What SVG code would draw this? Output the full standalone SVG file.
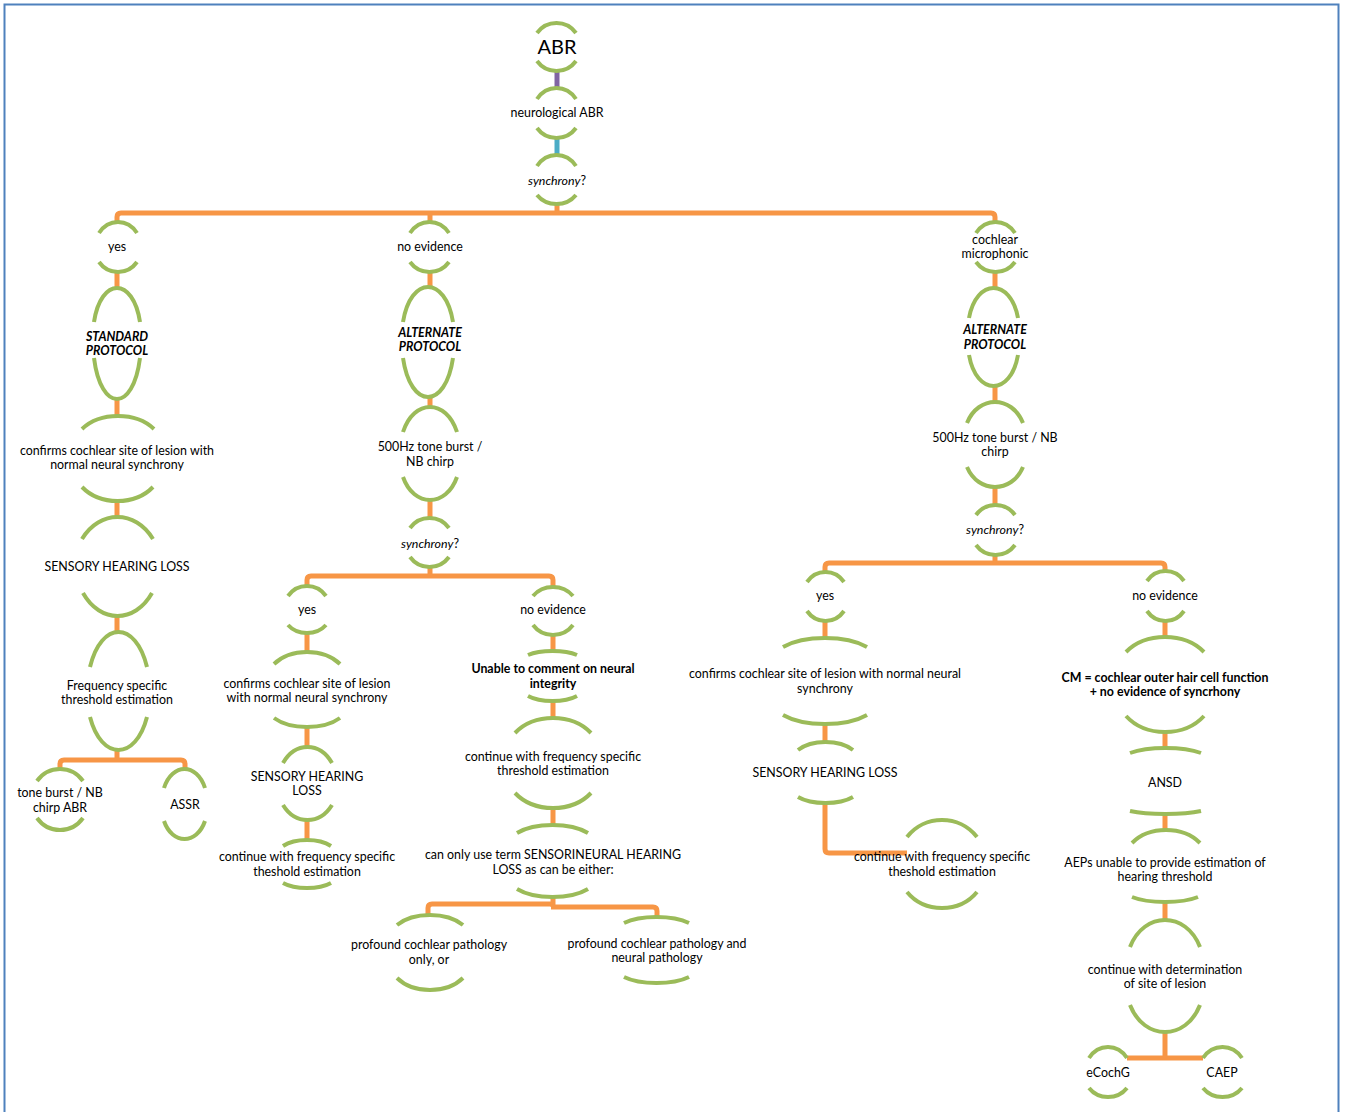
<svg xmlns="http://www.w3.org/2000/svg" width="1346" height="1112" viewBox="0 0 1346 1112">
<style>
.a{fill:none;stroke:#9BBB59;stroke-width:4}
.c{fill:none;stroke:#F79646;stroke-width:5}
.p{fill:none;stroke:#8064A2;stroke-width:5}
.q{fill:none;stroke:#4BACC6;stroke-width:5}
.t{font-family:Lato,'Liberation Sans',sans-serif;font-size:12.4px;fill:#000;text-anchor:middle}
.b{font-weight:bold}
.bi{font-weight:bold;font-style:italic}
.i{font-style:italic}
</style>
<rect x="4.5" y="4.5" width="1334" height="1200" fill="none" stroke="#4F81BD" stroke-width="2"/>
<g id="connectors">
<path class="p" d="M557 71V89"/>
<path class="q" d="M557 138V155"/>
<path class="c" d="M557 204V213"/>
<path class="c" d="M117 222V217Q117 213 121 213H991Q995 213 995 217V222"/>
<path class="c" d="M430 213V222"/>
<path class="c" d="M117 272V288M117 399V416M117 501V517M117 616V632M117 750V760"/>
<path class="c" d="M60 770V764Q60 760 64 760H181Q185 760 185 764V770"/>
<path class="c" d="M430 272V287M430 397V407M430 500V518M430 567V576"/>
<path class="c" d="M307 586V580Q307 576 311 576H549Q553 576 553 580V587"/>
<path class="c" d="M307 633V652M307 727V747M307 820V840"/>
<path class="c" d="M553 635V651M553 701V718M553 808V825M553 897V907"/>
<path class="c" d="M428 915V908Q428 904 432 904H553"/>
<path class="c" d="M551 907H653Q657 907 657 911V917"/>
<path class="c" d="M995 272V288M995 386V402M995 487V505M995 555V563"/>
<path class="c" d="M825 572V567Q825 563 829 563H1161Q1165 563 1165 567V571"/>
<path class="c" d="M825 621V638M825 724V742"/>
<path class="c" d="M825 803V849Q825 853 829 853H907"/>
<path class="c" d="M1165 621V637M1165 732V748M1165 814V830M1165 902V920M1165 1032V1058"/>
<path class="c" d="M1127 1058H1203"/>
</g>
<g id="n-abr">
<path class="a" d="M537 33C546.75 19.67 566.25 19.67 576 33"/>
<path class="a" d="M537 61C546.75 74.33 566.25 74.33 576 61"/>
<text class="t" x="557" y="54" style="font-size:20px">ABR</text>
</g>
<g id="n-neuro">
<path class="a" d="M537 99C546.75 84.33 566.25 84.33 576 99"/>
<path class="a" d="M537 128C546.75 141.33 566.25 141.33 576 128"/>
<text class="t" x="557" y="117">neurological ABR</text>
</g>
<g id="n-sync1">
<path class="a" d="M537 166C546.75 151.33 566.25 151.33 576 166"/>
<path class="a" d="M537 195C546.75 207 566.25 207 576 195"/>
<text class="t" x="557" y="185"><tspan class="i">synchrony</tspan>?</text>
</g>
<g id="n-yes1">
<path class="a" d="M99 233C108.5 218.33 127.5 218.33 137 233"/>
<path class="a" d="M99 262C108.5 275.33 127.5 275.33 137 262"/>
<text class="t" x="117" y="251">yes</text>
</g>
<g id="n-std">
<path class="a" d="M94 322C100.9 276.67 133.1 276.67 140 322"/>
<path class="a" d="M94 358C100.9 412.67 133.1 412.67 140 358"/>
<text class="t bi" x="117" y="341">STANDARD</text>
<text class="t bi" x="117" y="355">PROTOCOL</text>
</g>
<g id="n-conf1">
<path class="a" d="M82 429C100 411.67 136 411.67 154 429"/>
<path class="a" d="M82 487C100 505.67 135 505.67 153 487"/>
<text class="t" x="117" y="455">confirms cochlear site of lesion with</text>
<text class="t" x="117" y="469">normal neural synchrony</text>
</g>
<g id="n-shl1">
<path class="a" d="M82 539C99.75 509.67 135.25 509.67 153 539"/>
<path class="a" d="M83 593C100.25 623.67 134.75 623.67 152 593"/>
<text class="t" x="117" y="571">SENSORY HEARING LOSS</text>
</g>
<g id="n-freq1">
<path class="a" d="M90 667C101.4 620.33 135.6 620.33 147 667"/>
<path class="a" d="M90 717C101.4 761 135.6 761 147 717"/>
<text class="t" x="117" y="690">Frequency specific</text>
<text class="t" x="117" y="704">threshold estimation</text>
</g>
<g id="n-tb">
<path class="a" d="M37 781C48.5 765 71.5 765 83 781"/>
<path class="a" d="M37 818C48.5 834 71.5 834 83 818"/>
<text class="t" x="60" y="797">tone burst / NB</text>
<text class="t" x="60" y="812">chirp ABR</text>
</g>
<g id="n-assr">
<path class="a" d="M164 788C172.2 762.67 196.8 762.67 205 788"/>
<path class="a" d="M164 821C172.2 845 196.8 845 205 821"/>
<text class="t" x="185" y="809">ASSR</text>
</g>
<g id="n-noev1">
<path class="a" d="M410 233C419.75 218.33 439.25 218.33 449 233"/>
<path class="a" d="M410 262C419.75 275.33 439.25 275.33 449 262"/>
<text class="t" x="430" y="251">no evidence</text>
</g>
<g id="n-alt1">
<path class="a" d="M403 322C410.5 275.33 445.5 275.33 453 322"/>
<path class="a" d="M403 358C410.5 410 445.5 410 453 358"/>
<text class="t bi" x="430" y="337">ALTERNATE</text>
<text class="t bi" x="430" y="351">PROTOCOL</text>
</g>
<g id="n-500a">
<path class="a" d="M403 432C413.8 398.67 446.2 398.67 457 432"/>
<path class="a" d="M403 477C413.8 507.67 446.2 507.67 457 477"/>
<text class="t" x="430" y="451">500Hz tone burst /</text>
<text class="t" x="430" y="466">NB chirp</text>
</g>
<g id="n-sync2">
<path class="a" d="M410 528C419.75 514.67 439.25 514.67 449 528"/>
<path class="a" d="M410 557C419.75 570.33 439.25 570.33 449 557"/>
<text class="t" x="430" y="548"><tspan class="i">synchrony</tspan>?</text>
</g>
<g id="n-yes2">
<path class="a" d="M288 596C297.5 582.67 316.5 582.67 326 596"/>
<path class="a" d="M288 625C297.5 635.67 316.5 635.67 326 625"/>
<text class="t" x="307" y="614">yes</text>
</g>
<g id="n-conf2">
<path class="a" d="M274 664C290.5 648 323.5 648 340 664"/>
<path class="a" d="M274 718C290.5 730 323.5 730 340 718"/>
<text class="t" x="307" y="688">confirms cochlear site of lesion</text>
<text class="t" x="307" y="702">with normal neural synchrony</text>
</g>
<g id="n-shl2">
<path class="a" d="M283 763C295.25 741.67 319.75 741.67 332 763"/>
<path class="a" d="M283 805C295.25 825 319.75 825 332 805"/>
<text class="t" x="307" y="781">SENSORY HEARING</text>
<text class="t" x="307" y="795">LOSS</text>
</g>
<g id="n-cont2">
<path class="a" d="M283 846C295 838 319 838 331 846"/>
<path class="a" d="M283 883C295 889.67 319 889.67 331 883"/>
<text class="t" x="307" y="861">continue with frequency specific</text>
<text class="t" x="307" y="876">theshold estimation</text>
</g>
<g id="n-noev2">
<path class="a" d="M533 596C543 584 563 584 573 596"/>
<path class="a" d="M533 625C543 638.33 563 638.33 573 625"/>
<text class="t" x="553" y="614">no evidence</text>
</g>
<g id="n-unable">
<path class="a" d="M528 655C540.25 649.67 564.75 649.67 577 655"/>
<path class="a" d="M528 696C540.25 702.67 564.75 702.67 577 696"/>
<text class="t b" x="553" y="673">Unable to comment on neural</text>
<text class="t b" x="553" y="688">integrity</text>
</g>
<g id="n-cont3">
<path class="a" d="M515 733C534 713 572 713 591 733"/>
<path class="a" d="M515 793C534 813 572 813 591 793"/>
<text class="t" x="553" y="761">continue with frequency specific</text>
<text class="t" x="553" y="775">threshold estimation</text>
</g>
<g id="n-snhl">
<path class="a" d="M517 833C534.75 822.33 570.25 822.33 588 833"/>
<path class="a" d="M517 889C534.75 899.67 570.25 899.67 588 889"/>
<text class="t" x="553" y="859">can only use term SENSORINEURAL HEARING</text>
<text class="t" x="553" y="874">LOSS as can be either:</text>
</g>
<g id="n-prof1">
<path class="a" d="M397 925C413.5 911.67 446.5 911.67 463 925"/>
<path class="a" d="M397 978C413.5 994 446.5 994 463 978"/>
<text class="t" x="429" y="949">profound cochlear pathology</text>
<text class="t" x="429" y="964">only, or</text>
</g>
<g id="n-prof2">
<path class="a" d="M624 923C640.25 915 672.75 915 689 923"/>
<path class="a" d="M624 977C640.25 985 672.75 985 689 977"/>
<text class="t" x="657" y="948">profound cochlear pathology and</text>
<text class="t" x="657" y="962">neural pathology</text>
</g>
<g id="n-cm">
<path class="a" d="M976 233C985.75 218.33 1005.25 218.33 1015 233"/>
<path class="a" d="M976 262C985.75 275.33 1005.25 275.33 1015 262"/>
<text class="t" x="995" y="244">cochlear</text>
<text class="t" x="995" y="258">microphonic</text>
</g>
<g id="n-alt2">
<path class="a" d="M969 318C976.35 278 1010.65 278 1018 318"/>
<path class="a" d="M969 355C976.35 396.33 1010.65 396.33 1018 355"/>
<text class="t bi" x="995" y="334">ALTERNATE</text>
<text class="t bi" x="995" y="349">PROTOCOL</text>
</g>
<g id="n-500b">
<path class="a" d="M967 423C978.2 395 1011.8 395 1023 423"/>
<path class="a" d="M967 467C978.2 493.67 1011.8 493.67 1023 467"/>
<text class="t" x="995" y="442">500Hz tone burst / NB</text>
<text class="t" x="995" y="456">chirp</text>
</g>
<g id="n-sync3">
<path class="a" d="M976 515C985.75 501.67 1005.25 501.67 1015 515"/>
<path class="a" d="M976 545C985.75 558.33 1005.25 558.33 1015 545"/>
<text class="t" x="995" y="534"><tspan class="i">synchrony</tspan>?</text>
</g>
<g id="n-yes3">
<path class="a" d="M807 582C816.25 568.67 834.75 568.67 844 582"/>
<path class="a" d="M807 611C816.25 624.33 834.75 624.33 844 611"/>
<text class="t" x="825" y="600">yes</text>
</g>
<g id="n-conf3">
<path class="a" d="M783 647C804 635 846 635 867 647"/>
<path class="a" d="M783 715C804 727 846 727 867 715"/>
<text class="t" x="825" y="678">confirms cochlear site of lesion with normal neural</text>
<text class="t" x="825" y="693">synchrony</text>
</g>
<g id="n-shl3">
<path class="a" d="M798 750C811.75 739.33 839.25 739.33 853 750"/>
<path class="a" d="M798 797C811.75 805 839.25 805 853 797"/>
<text class="t" x="825" y="777">SENSORY HEARING LOSS</text>
</g>
<g id="n-cont4">
<path class="a" d="M907 837C924.5 814.33 959.5 814.33 977 837"/>
<path class="a" d="M907 892C924.5 913.33 959.5 913.33 977 892"/>
<text class="t" x="942" y="861">continue with frequency specific</text>
<text class="t" x="942" y="876">theshold estimation</text>
</g>
<g id="n-noev3">
<path class="a" d="M1147 581C1156.25 567.67 1174.75 567.67 1184 581"/>
<path class="a" d="M1147 611C1156.25 624.33 1174.75 624.33 1184 611"/>
<text class="t" x="1165" y="600">no evidence</text>
</g>
<g id="n-cmdef">
<path class="a" d="M1126 652C1145.5 632 1184.5 632 1204 652"/>
<path class="a" d="M1126 716C1145.5 737.33 1184.5 737.33 1204 716"/>
<text class="t b" x="1165" y="682">CM = cochlear outer hair cell function</text>
<text class="t b" x="1165" y="696">+ no evidence of syncrhony</text>
</g>
<g id="n-ansd">
<path class="a" d="M1130 753C1147.75 746.33 1183.25 746.33 1201 753"/>
<path class="a" d="M1130 811C1147.75 815 1183.25 815 1201 811"/>
<text class="t" x="1165" y="787">ANSD</text>
</g>
<g id="n-aep">
<path class="a" d="M1132 843C1149 825.67 1183 825.67 1200 843"/>
<path class="a" d="M1132 897C1148.5 903.67 1181.5 903.67 1198 897"/>
<text class="t" x="1165" y="867">AEPs unable to provide estimation of</text>
<text class="t" x="1165" y="881">hearing threshold</text>
</g>
<g id="n-site">
<path class="a" d="M1130 947C1144 911 1186 911 1200 947"/>
<path class="a" d="M1130 1005C1144 1041 1186 1041 1200 1005"/>
<text class="t" x="1165" y="974">continue with determination</text>
<text class="t" x="1165" y="988">of site of lesion</text>
</g>
<g id="n-ecochg">
<path class="a" d="M1089 1058C1098.5 1043.33 1117.5 1043.33 1127 1058"/>
<path class="a" d="M1089 1088C1098.5 1100 1117.5 1100 1127 1088"/>
<text class="t" x="1108" y="1077">eCochG</text>
</g>
<g id="n-caep">
<path class="a" d="M1203 1058C1212.75 1043.33 1232.25 1043.33 1242 1058"/>
<path class="a" d="M1203 1088C1212.75 1100 1232.25 1100 1242 1088"/>
<text class="t" x="1222" y="1077">CAEP</text>
</g>
</svg>
